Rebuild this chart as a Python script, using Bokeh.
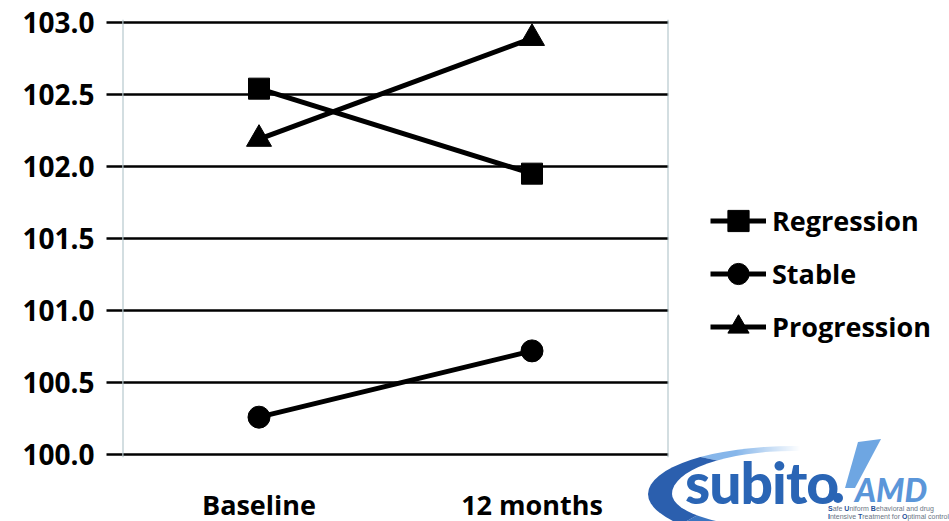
from bokeh.plotting import figure
from bokeh.models import (FactorRange, Range1d, FixedTicker, NumeralTickFormatter,
                          Span, Legend, LegendItem, GridBox, Div)
from bokeh.embed import file_html
from bokeh.resources import INLINE

# --- data ---
categories = ["Baseline", "12 months"]
regression = [102.54, 101.95]
stable = [100.26, 100.72]
progression = [102.19, 102.89]
y_ticks = [100.0, 100.5, 101.0, 101.5, 102.0, 102.5, 103.0]

FONT = "Open Sans"
W, H = 949, 521

# a hair of headroom so the 100.0 and 103.0 gridlines are drawn in full
p = figure(x_range=FactorRange(*categories, range_padding=0),
           y_range=Range1d(99.98, 103.02),
           frame_width=546, frame_height=438,
           min_border_left=122, min_border_right=281,
           min_border_top=19, min_border_bottom=64,
           output_backend="svg", toolbar_location=None,
           background_fill_color="white", border_fill_color="white")
p.outline_line_color = None

# horizontal gridlines (black) with ticks sticking out to the left
p.ygrid.ticker = FixedTicker(ticks=y_ticks)
p.ygrid.grid_line_color = "black"
p.ygrid.grid_line_width = 2.5
p.xgrid.grid_line_color = None

p.yaxis.ticker = FixedTicker(ticks=y_ticks)
p.yaxis.formatter = NumeralTickFormatter(format="0.0")
p.yaxis.axis_line_color = None
p.yaxis.major_tick_out = 16
p.yaxis.major_tick_in = 0
p.yaxis.major_tick_line_color = "black"
p.yaxis.major_tick_line_width = 2.5
p.yaxis.minor_tick_line_color = None
p.yaxis.major_label_standoff = 12
p.yaxis.major_label_text_font = FONT
p.yaxis.major_label_text_font_style = "bold"
p.yaxis.major_label_text_font_size = "28px"
p.yaxis.major_label_text_color = "black"

p.xaxis.axis_line_color = None
p.xaxis.major_tick_line_color = None
p.xaxis.minor_tick_line_color = None
p.xaxis.major_label_standoff = 22
p.xaxis.major_label_text_font = FONT
p.xaxis.major_label_text_font_style = "bold"
p.xaxis.major_label_text_font_size = "27px"
p.xaxis.major_label_text_color = "black"

# pale side borders of the plot area
for loc in (0, len(categories)):
    p.add_layout(Span(location=loc, dimension="height",
                      line_color="#a7bec3", line_width=2))

series = [("Regression", regression, "square", 21),
          ("Stable", stable, "circle", 22),
          ("Progression", progression, "triangle", 25)]

items = []
for name, vals, marker, size in series:
    ln = p.line(categories, vals, line_color="black", line_width=5)
    mk = p.scatter(categories, vals, marker=marker, size=size,
                   fill_color="black", line_color="black", line_join="round")
    items.append(LegendItem(label=name, renderers=[ln, mk]))

legend = Legend(items=items, location=(42, 104),
                orientation="vertical",
                glyph_width=56, glyph_height=53, label_height=30,
                spacing=0, padding=0, margin=0, label_standoff=6,
                border_line_color=None, background_fill_alpha=0,
                label_text_font=FONT, label_text_font_style="bold",
                label_text_font_size="27px", label_text_color="black")
p.add_layout(legend, "right")

# --- subito! AMD logo, laid over the bottom right corner of the chart ---
def box(left, top, extra):
    return f"position:absolute;left:{left}px;top:{top}px;{extra}"

def initial(word):
    return f'<b style="color:#1f4f9a;">{word[0]}</b>{word[1:]}'

line1 = " ".join(initial(w) if w[0].isupper() else w
                 for w in "Safe Uniform Behavioral and drug".split())
line2 = " ".join(initial(w) if w[0].isupper() else w
                 for w in "Intensive Treatment for Optimal control".split())

fade = "linear-gradient(to right, black 60%, transparent 100%)"
logo_html = f"""
<div style="position:relative;width:{W}px;height:{H}px;overflow:hidden;">
  <div style="{box(640, 440, f'width:160px;height:81px;overflow:hidden;'
      f'mask-image:{fade};-webkit-mask-image:{fade};')}">
    <div style="{box(8, 6, 'width:290px;height:96px;border-radius:50%;'
        'box-sizing:border-box;border-left:24px solid #2b5fae;'
        'border-top:5px solid #86b6ea;border-bottom:13px solid #3a74c0;'
        'border-right:0 solid transparent;')}"></div>
  </div>
  <div style="{box(685, 460, 'font-family:Lato;font-weight:900;font-size:57px;'
      'line-height:0.8;color:#2a65b5;letter-spacing:-1px;white-space:nowrap;')}">subito</div>
  <div style="{box(845, 439, 'width:36px;height:49px;background:#6ea6e2;'
      'clip-path:polygon(13px 3px,36px 0,10px 49px,0 49px);')}"></div>
  <div style="{box(833, 493, 'width:10px;height:10px;border-radius:50%;'
      'background:#2a65b5;')}"></div>
  <div style="{box(855, 477, 'font-family:Lato;font-weight:900;font-style:italic;'
      'font-size:32px;line-height:0.8;color:#5b96d9;white-space:nowrap;')}">AMD</div>
  <div style="{box(828, 505, 'font-family:Liberation Sans;font-size:7px;'
      'line-height:7.5px;color:#6a7484;white-space:nowrap;')}">{line1}<br>{line2}</div>
</div>
"""
logo = Div(text=logo_html, width=W, height=H, margin=0)

# both share one grid cell, the logo painted over the chart
page = GridBox(children=[(p, 0, 0), (logo, 0, 0)])

open("out.html", "w").write(file_html(page, INLINE))
